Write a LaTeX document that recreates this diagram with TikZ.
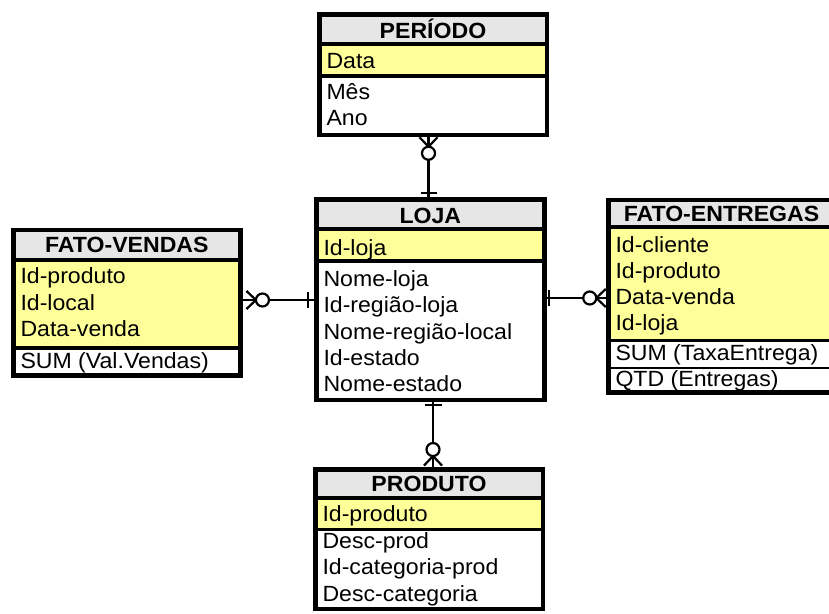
\documentclass[tikz,border=0pt]{standalone}
\usepackage{fontspec}
\setmainfont{Liberation Sans}[FakeStretch=1.05]
\usetikzlibrary{calc}
\definecolor{hdrgray}{HTML}{E6E6E6}
\definecolor{keyyellow}{HTML}{FFFF99}
\begin{document}
\begin{tikzpicture}[x=1pt,y=-1pt,
  every node/.style={inner sep=0pt,outer sep=0pt},
  frame/.style={draw=black,line width=4.5pt,anchor=north west},
  hdr/.style={fill=hdrgray},
  keyarea/.style={fill=keyyellow},
  hline/.style={line width=4pt},
  kline/.style={line width=3.5pt},
  thinline/.style={line width=2pt},
  title/.style={font=\bfseries\fontsize{22}{27}\selectfont,anchor=base},
  field/.style={font=\fontsize{22}{27}\selectfont,anchor=base west},
  conn/.style={draw=black,line width=2.2pt},
  crowzero/.pic={
    \draw[conn] (2.5,-9) -- (12,0) -- (2.5,9);
    \draw[conn,fill=white] (18.5,0) circle[radius=6.5];
  }]
\useasboundingbox (0,0) rectangle (829,613);
\clip (0,0) rectangle (829,613);
\fill[white] (0,0) rectangle (829,613);

% ---------- PERÍODO ----------
\fill[hdr] (317,12) rectangle (549,44);
\fill[keyarea] (317,44) rectangle (549,75.75);
\draw[hline] (317,44) -- (549,44);
\draw[kline] (317,75.75) -- (549,75.75);
\node[title] (per-title) at (433,38.3) {PERÍODO};
\node[field] (per-data) at (326.5,68.3) {Data};
\node[field] (per-mes) at (326.5,99.3) {Mês};
\node[field] (per-ano) at (326.5,125) {Ano};
\node[frame,minimum width=227.5pt,minimum height=120.5pt] (periodo) at (319.25,14.25) {};

% ---------- LOJA ----------
\fill[hdr] (314,197.3) rectangle (546.7,229.3);
\fill[keyarea] (314,229.3) rectangle (546.7,260.85);
\draw[hline] (314,229.3) -- (546.7,229.3);
\draw[kline] (314,260.85) -- (546.7,260.85);
\node[title] (loja-title) at (430.35,223.3) {LOJA};
\node[field] (loja-id) at (323.5,255) {Id-loja};
\node[field] (loja-nome) at (323.5,286.7) {Nome-loja};
\node[field] (loja-reg) at (323.5,312.9) {Id-região-loja};
\node[field] (loja-nreg) at (323.5,339.1) {Nome-região-local};
\node[field] (loja-est) at (323.5,365.3) {Id-estado};
\node[field] (loja-nest) at (323.5,391.5) {Nome-estado};
\node[frame,minimum width=228.2pt,minimum height=200.2pt] (loja) at (316.25,199.55) {};

% ---------- FATO-VENDAS ----------
\fill[hdr] (11,227.7) rectangle (242.7,260.3);
\fill[keyarea] (11,260.3) rectangle (242.7,347.85);
\draw[hline] (11,260.3) -- (242.7,260.3);
\draw[kline] (11,347.85) -- (242.7,347.85);
\node[title] (ven-title) at (126.85,252.3) {FATO-VENDAS};
\node[field] (ven-prod) at (20.5,283.3) {Id-produto};
\node[field] (ven-local) at (20.5,310) {Id-local};
\node[field] (ven-data) at (20.5,336.7) {Data-venda};
\node[field] (ven-sum) at (20.5,368.8) {SUM (Val.Vendas)};
\node[frame,minimum width=227.2pt,minimum height=145.5pt] (vendas) at (13.25,229.95) {};

% ---------- FATO-ENTREGAS ----------
\fill[hdr] (606,197.5) rectangle (837,227.15);
\fill[keyarea] (606,227.15) rectangle (837,340.5);
\draw[hline] (606,227.15) -- (837,227.15);
\draw[kline] (606,340.5) -- (837,340.5);
\draw[thinline] (606,367.5) -- (837,367.5);
\node[title] (ent-title) at (721.5,221) {FATO-ENTREGAS};
\node[field] (ent-cli) at (615.5,252.8) {Id-cliente};
\node[field] (ent-prod) at (615.5,278.8) {Id-produto};
\node[field] (ent-data) at (615.5,304.8) {Data-venda};
\node[field] (ent-loja) at (615.5,330.8) {Id-loja};
\node[field] (ent-sum) at (615.5,360) {SUM (TaxaEntrega)};
\node[field] (ent-qtd) at (615.5,386) {QTD (Entregas)};
\node[frame,minimum width=226.5pt,minimum height=192.5pt] (entregas) at (608.25,199.75) {};

% ---------- PRODUTO ----------
\fill[hdr] (313,467.3) rectangle (545,498.35);
\fill[keyarea] (313,498.35) rectangle (545,529.5);
\draw[hline] (313,498.35) -- (545,498.35);
\draw[kline] (313,529.5) -- (545,529.5);
\node[title] (pro-title) at (429,491.7) {PRODUTO};
\node[field] (pro-id) at (322.5,521.7) {Id-produto};
\node[field] (pro-desc) at (322.5,548) {Desc-prod};
\node[field] (pro-cat) at (322.5,574.5) {Id-categoria-prod};
\node[field] (pro-dcat) at (322.5,601) {Desc-categoria};
\node[frame,minimum width=227.5pt,minimum height=139.2pt] (produto) at (315.25,469.55) {};

% ---------- relationships ----------
\coordinate (xa) at (428.5,0);
\coordinate (xb) at (433,0);
\coordinate (yl) at (0,300);
\coordinate (yr) at (0,298);

% PERÍODO (many) -- LOJA (one)
\draw[conn] (periodo.south -| xa) -- (loja.north -| xa);
\pic[rotate=-90] at (periodo.south -| xa) {crowzero};
\draw[conn] ($(loja.north -| xa)+(-8,-6.5)$) -- ($(loja.north -| xa)+(8,-6.5)$);

% LOJA (one) -- PRODUTO (many)
\draw[conn] (loja.south -| xb) -- (produto.north -| xb);
\draw[conn] ($(loja.south -| xb)+(-8.5,5.5)$) -- ($(loja.south -| xb)+(8.5,5.5)$);
\pic[rotate=90] at ($(produto.north -| xb)+(0,-1.5)$) {crowzero};

% FATO-VENDAS (many) -- LOJA (one)
\draw[conn] (vendas.east |- yl) -- (loja.west |- yl);
\pic at ($(vendas.east |- yl)+(3.5,0)$) {crowzero};
\draw[conn] ($(loja.west |- yl)+(-8.5,-8)$) -- ($(loja.west |- yl)+(-8.5,8)$);

% FATO-ENTREGAS (many) -- LOJA (one)
\draw[conn] (entregas.west |- yr) -- (loja.east |- yr);
\pic[rotate=180] at (entregas.west |- yr) {crowzero};
\draw[conn] ($(loja.east |- yr)+(4.5,-8)$) -- ($(loja.east |- yr)+(4.5,8)$);
\end{tikzpicture}
\end{document}
